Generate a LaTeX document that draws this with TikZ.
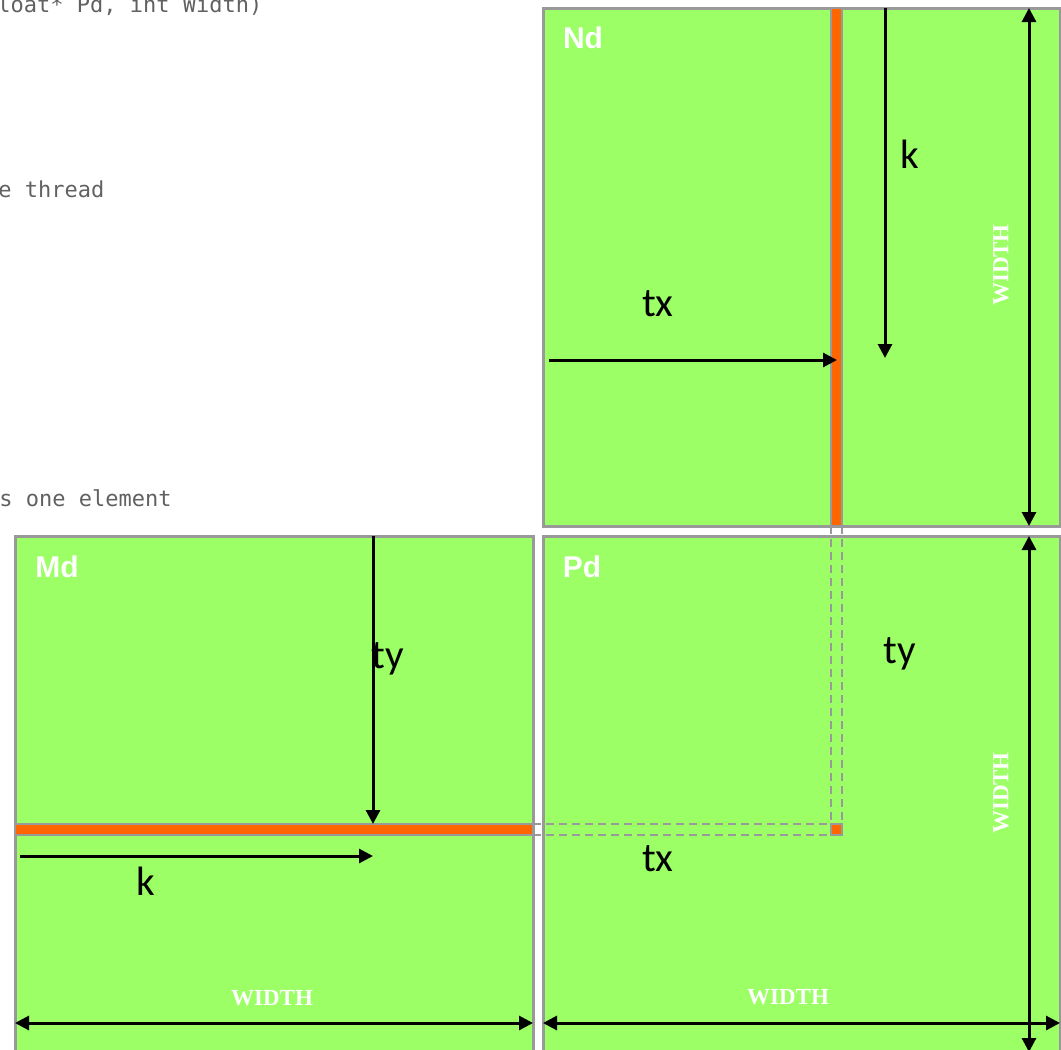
\documentclass[tikz,border=0pt]{standalone}
\usepackage{fontspec}
\usetikzlibrary{arrows.meta}
\newfontfamily\tagfont{Liberation Sans}
\newfontfamily\varfont{Carlito}
\newfontfamily\dimfont{Liberation Serif}
\newfontfamily\codefont{DejaVu Sans Mono}
\definecolor{matgreen}{HTML}{9CFF66}
\definecolor{stripe}{HTML}{FF6600}
\definecolor{edge}{HTML}{999999}

\newcommand*{\picw}{1061}
\newcommand*{\pich}{1050}
\newcommand*{\stx}{831}
\newcommand*{\sty}{824}

\begin{document}
\begin{tikzpicture}
[
	x=0.5pt,
	y=-0.5pt,
	matrixbox/.style={fill=matgreen,draw=edge,line width=1.5pt},
	stripbox/.style={fill=stripe,draw=edge,line width=1pt},
	guide/.style={draw=edge,line width=1pt,dash pattern=on 4pt off 2.5pt},
	arr/.style={line width=1.5pt,-{Triangle[length=7pt,width=7pt]}},
	dimarr/.style={line width=1.5pt,{Triangle[length=7pt,width=7pt]}-{Triangle[length=7pt,width=7pt]}},
	tag/.style={text=white,font=\tagfont\bfseries\fontsize{15}{18}\selectfont},
	var/.style={font=\varfont\fontsize{20.5}{24}\selectfont},
	dim/.style={text=white,font=\dimfont\bfseries\fontsize{11.5}{13}\selectfont},
	code/.style={text=black!62,font=\codefont\fontsize{11}{13}\selectfont,inner sep=0pt,anchor=base west}
]

	\useasboundingbox (0,0) rectangle (\picw,\pich);
	\clip (0,0) rectangle (\picw,\pich);

	% left-over code lines
	\node[code] (sig) at (-3,12) {loat* Pd, int Width)};
	\node[code] (thr) at (-2,197) {e thread};
	\node[code] (elm) at (-1,506) {s one element};

	% matrices
	\draw[matrixbox] (543,8) rectangle (1060,526);
	\draw[matrixbox] (15,536) rectangle (533,1062);
	\draw[matrixbox] (543,536) rectangle (1060,1062);

	% dashed guides into Pd
	\draw[guide] (\stx,526) -- (\stx,\sty);
	\draw[guide] (842,526) -- (842,\sty);
	\draw[guide] (533,\sty) -- (\stx,\sty);
	\draw[guide] (533,835) -- (\stx,835);

	% column, row, element
	\draw[stripbox] (\stx,8) rectangle (842,526);
	\draw[stripbox] (15,\sty) rectangle (533,835);
	\draw[stripbox] (\stx,\sty) rectangle (842,835);

	% names
	\node[tag] (nd) at (583,38) {Nd};
	\node[tag] (md) at (57,567) {Md};
	\node[tag] (pd) at (582,567) {Pd};

	% index arrows
	\coordinate (ndk0) at (885,8);
	\coordinate (ndk1) at (885,358);
	\coordinate (ndt0) at (549,360);
	\coordinate (ndt1) at (837,360);
	\coordinate (mdt0) at (373,536);
	\coordinate (mdt1) at (373,824);
	\coordinate (mdk0) at (20,856);
	\coordinate (mdk1) at (373,856);
	\draw[arr] (ndk0) -- (ndk1);
	\draw[arr] (ndt0) -- (ndt1);
	\draw[arr] (mdt0) -- (mdt1);
	\draw[arr] (mdk0) -- (mdk1);

	\node[var] (kn) at (910,154) {k};
	\node[var] (txn) at (658,304) {tx};
	\node[var] (tym) at (388,659) {ty};
	\node[var] (km) at (146,881) {k};
	\node[var] (typ) at (900,654) {ty};
	\node[var] (txp) at (658,859) {tx};

	% WIDTH dimensions
	\coordinate (nw0) at (1029,8);
	\coordinate (nw1) at (1029,526);
	\coordinate (pw0) at (1029,536);
	\coordinate (pw1) at (1029,1052);
	\coordinate (mh0) at (15,1023);
	\coordinate (mh1) at (533,1023);
	\coordinate (ph0) at (543,1023);
	\coordinate (ph1) at (1060,1023);
	\draw[dimarr] (nw0) -- (nw1);
	\draw[dimarr] (pw0) -- (pw1);
	\draw[dimarr] (mh0) -- (mh1);
	\draw[dimarr] (ph0) -- (ph1);

	\node[dim,rotate=90] (wn) at (1001,265) {WIDTH};
	\node[dim,rotate=90] (wp) at (1001,793) {WIDTH};
	\node[dim] (wm) at (272,998) {WIDTH};
	\node[dim] (wq) at (788,997) {WIDTH};

\end{tikzpicture}
\end{document}
